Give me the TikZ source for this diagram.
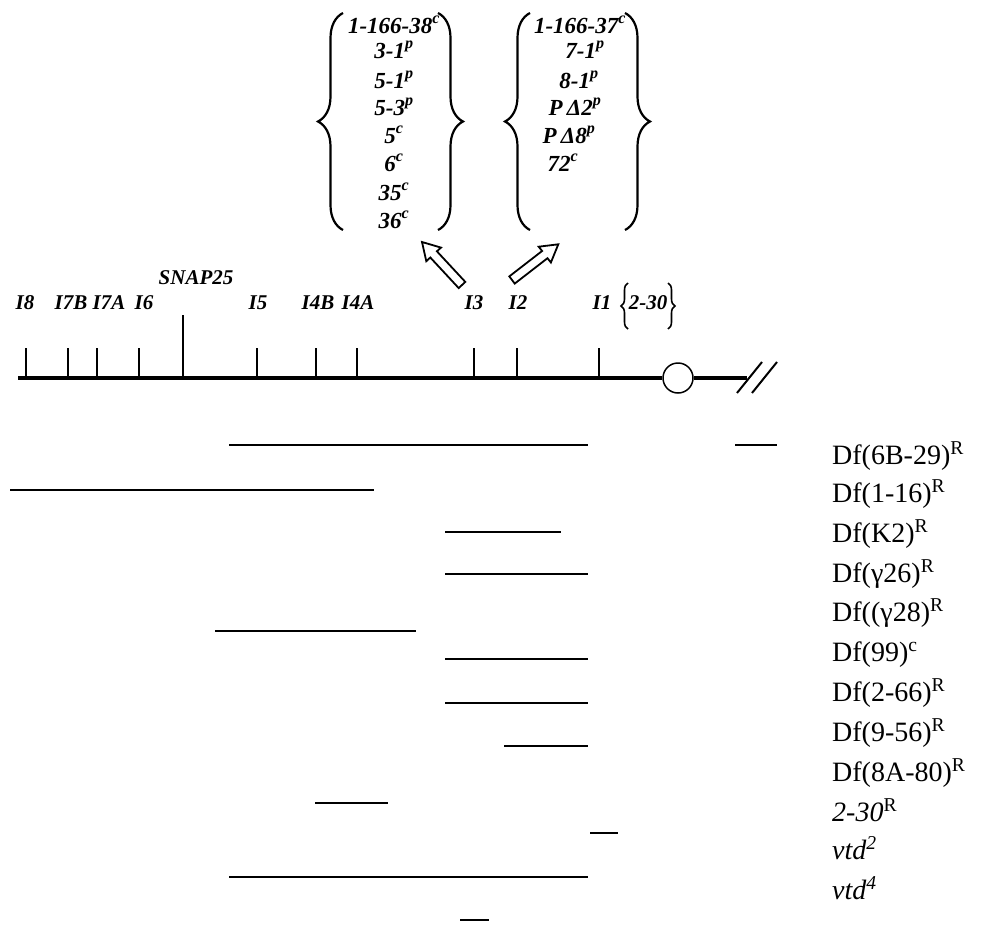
\documentclass[tikz,border=0pt]{standalone}
\usepackage{fontspec}
\setmainfont{Liberation Serif}
\usetikzlibrary{decorations.pathreplacing}
\begin{document}
\begin{tikzpicture}[x=1pt,y=-1pt,
  axlab/.style={font=\fontsize{21}{23}\selectfont\bfseries\itshape, inner sep=0pt, anchor=base},
  grp/.style={font=\fontsize{23}{25}\selectfont\bfseries\itshape, inner sep=0pt, anchor=base},
  dflab/.style={font=\fontsize{28}{30}\selectfont, inner sep=0pt, anchor=base west},
  bigbrace/.style={decorate, decoration={brace, amplitude=25pt, aspect=0.5}, line width=2.2pt},
  smallbrace/.style={decorate, decoration={brace, amplitude=7pt, aspect=0.5}, line width=1.6pt},
  tick/.style={line width=1.2pt},
  chrom/.style={line width=3.5pt},
  del/.style={line width=1.6pt},
  hollow/.style={draw, line width=1.8pt, fill=white, line join=miter}
]
\useasboundingbox (0,0) rectangle (999,929);

% ---- top groups ----
\draw[bigbrace] (343,230) -- (343,13);
\draw[bigbrace] (438,13) -- (438,230);
\draw[bigbrace] (530,230) -- (530,13);
\draw[bigbrace] (625,13) -- (625,230);

\node[grp] (a1) at (394,33) {1-166-38\textsuperscript{c}};
\node[grp] (a2) at (394,58) {3-1\textsuperscript{p}};
\node[grp] (a3) at (394,88) {5-1\textsuperscript{p}};
\node[grp] (a4) at (394,115) {5-3\textsuperscript{p}};
\node[grp] (a5) at (394,143) {5\textsuperscript{c}};
\node[grp] (a6) at (394,171) {6\textsuperscript{c}};
\node[grp] (a7) at (394,200) {35\textsuperscript{c}};
\node[grp] (a8) at (394,228) {36\textsuperscript{c}};

\node[grp] (b1) at (580,33) {1-166-37\textsuperscript{c}};
\node[grp] (b2) at (585,58) {7-1\textsuperscript{p}};
\node[grp] (b3) at (579,88) {8-1\textsuperscript{p}};
\node[grp] (b4) at (575,115) {P$\,$Δ2\textsuperscript{p}};
\node[grp] (b5) at (569,143) {P$\,$Δ8\textsuperscript{p}};
\node[grp] (b6) at (563,171) {72\textsuperscript{c}};

% ---- hollow arrows ----
\draw[hollow] (465.3,281.9) -- (436.9,251.3) -- (441.0,247.6) -- (422,242) -- (426.3,261.2) -- (430.3,257.5) -- (458.7,288.1) -- cycle;
\draw[hollow] (514.7,283.6) -- (547.5,258.2) -- (550.9,262.5) -- (558.3,244.3) -- (538.7,246.7) -- (542.1,251.0) -- (509.3,276.4) -- cycle;

% ---- axis labels ----
\node[axlab] (l8) at (25,309) {I8};
\node[axlab] (l7b) at (71,309) {I7B};
\node[axlab] (l7a) at (109,309) {I7A};
\node[axlab] (l6) at (144,309) {I6};
\node[axlab] (snap) at (196,284) {SNAP25};
\node[axlab] (l5) at (258,309) {I5};
\node[axlab] (l4b) at (318,309) {I4B};
\node[axlab] (l4a) at (358,309) {I4A};
\node[axlab] (l3) at (474,309) {I3};
\node[axlab] (l2) at (518,309) {I2};
\node[axlab] (l1) at (602,309) {I1};
\node[axlab] (t230) at (648,309) {2-30};
\draw[smallbrace] (628,329) -- (628,283);
\draw[smallbrace] (668,283) -- (668,329);

% ---- chromosome ----
\node[circle, draw, line width=1.5pt, minimum size=30pt, inner sep=0pt, fill=white] (cen) at (678,378) {};
\coordinate (cl) at (18,378);
\coordinate (cr) at (747,378);
\draw[chrom] (cl) -- (cen.west);
\draw[chrom] (cen.east) -- (cr);
\draw[line width=2pt] (737,393) -- (762,362);
\draw[line width=2pt] (752,393) -- (777,362);

\foreach \x in {26,68,97,139,257,316,357,474,517,599}{
  \draw[tick] (\x,348) -- (\x,376);
}
\draw[tick] (183,315) -- (183,376);

% ---- deletions ----
\draw[del] (229,445) -- (588,445);
\draw[del] (735,445) -- (777,445);
\draw[del] (10,490) -- (374,490);
\draw[del] (445,532) -- (561,532);
\draw[del] (445,574) -- (588,574);
\draw[del] (215,631) -- (416,631);
\draw[del] (445,659) -- (588,659);
\draw[del] (445,703) -- (588,703);
\draw[del] (504,746) -- (588,746);
\draw[del] (315,803) -- (388,803);
\draw[del] (590,833) -- (618,833);
\draw[del] (229,877) -- (588,877);
\draw[del] (460,920) -- (489,920);

% ---- deletion labels ----
\node[dflab] (d1) at (832,464) {Df(6B-29)\textsuperscript{R}};
\node[dflab] (d2) at (832,502) {Df(1-16)\textsuperscript{R}};
\node[dflab] (d3) at (832,542) {Df(K2)\textsuperscript{R}};
\node[dflab] (d4) at (832,582) {Df(γ26)\textsuperscript{R}};
\node[dflab] (d5) at (832,621) {Df((γ28)\textsuperscript{R}};
\node[dflab] (d6) at (832,661) {Df(99)\textsuperscript{c}};
\node[dflab] (d7) at (832,701) {Df(2-66)\textsuperscript{R}};
\node[dflab] (d8) at (832,741) {Df(9-56)\textsuperscript{R}};
\node[dflab] (d9) at (832,781) {Df(8A-80)\textsuperscript{R}};
\node[dflab] (d10) at (832,821) {\textit{2-30}\textsuperscript{R}};
\node[dflab] (d11) at (832,859) {\textit{vtd\textsuperscript{2}}};
\node[dflab] (d12) at (832,899) {\textit{vtd\textsuperscript{4}}};
\end{tikzpicture}
\end{document}
